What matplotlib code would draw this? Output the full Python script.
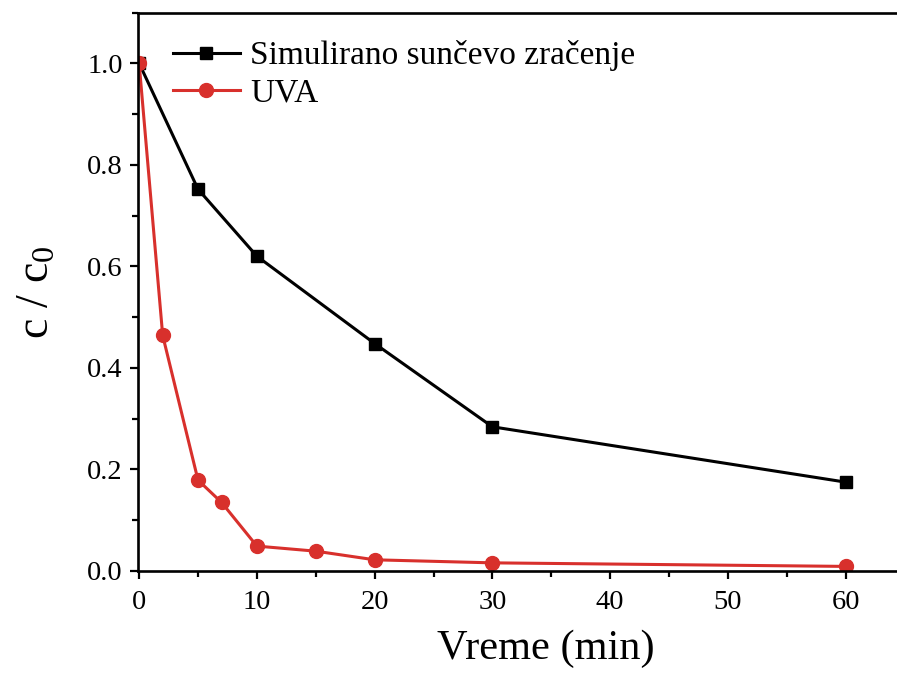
import matplotlib
matplotlib.use("Agg")
import matplotlib.pyplot as plt
from matplotlib.ticker import MultipleLocator

plt.rcParams["font.family"] = "Liberation Serif"
plt.rcParams["mathtext.fontset"] = "custom"
plt.rcParams["mathtext.rm"] = "Liberation Serif"
plt.rcParams["mathtext.it"] = "Liberation Serif"

# time (min) and normalised concentration c/c0
t_sim = [0, 5, 10, 20, 30, 60]
c_sim = [1.0, 0.752, 0.620, 0.448, 0.284, 0.175]

t_uva = [0, 2, 5, 7, 10, 15, 20, 30, 60]
c_uva = [1.0, 0.464, 0.179, 0.135, 0.049, 0.039, 0.022, 0.016, 0.009]

labels = ["Simulirano sunčevo zračenje", "UVA"]
RED = "#d8302c"

fig = plt.figure(figsize=(8.97, 6.73), dpi=100)
# axes runs past the right edge of the canvas, so the right spine is cut off
ax = fig.add_axes([0.1538, 0.1516, 0.9097, 0.8298])

ax.plot(t_sim, c_sim, color="black", lw=2.2, marker="s", ms=8.5,
        label=labels[0])
ax.plot(t_uva, c_uva, color=RED, lw=2.2, marker="o", ms=10,
        label=labels[1])

ax.set_xlim(-0.1, 69.2)
ax.set_ylim(0, 1.1)
ax.xaxis.set_major_locator(MultipleLocator(10))
ax.xaxis.set_minor_locator(MultipleLocator(5))
ax.yaxis.set_major_locator(MultipleLocator(0.2))
ax.yaxis.set_minor_locator(MultipleLocator(0.1))
ax.yaxis.set_major_formatter(plt.FormatStrFormatter("%.1f"))

ax.tick_params(which="major", direction="out", length=6, width=1.6,
               labelsize=20.5, pad=5)
ax.tick_params(axis="x", which="major", pad=8)
ax.tick_params(which="minor", direction="out", length=4, width=1.6)
for side in ("left", "bottom", "top", "right"):
    ax.spines[side].set_linewidth(1.9)

ax.set_xlabel("Vreme (min)", fontsize=30.5, labelpad=10)
ax.set_ylabel(r"c / c$_\mathregular{0}$", fontsize=33, labelpad=20)

ax.legend(loc="upper left", bbox_to_anchor=(0.193, 0.94),
          bbox_transform=fig.transFigure, frameon=False, fontsize=24,
          handlelength=2.0, handletextpad=0.3, labelspacing=0.2,
          borderpad=0, borderaxespad=0)

fig.savefig("out.png", dpi=100)
